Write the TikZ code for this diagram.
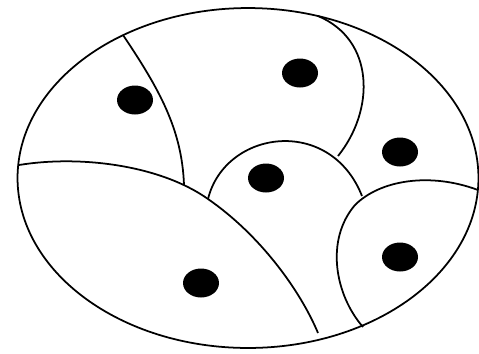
\documentclass[tikz,border=0pt]{standalone}
\usepackage{tikz}
\usetikzlibrary{shapes.geometric}

\begin{document}
\begin{tikzpicture}[x=0.02cm,y=-0.02cm,line width=1pt]
			\tikzset{dot/.style={ellipse, fill=black, inner sep=0pt, minimum width=0.72cm, minimum height=0.58cm}}
			\useasboundingbox (0,0) rectangle (479,353);
			% outer ellipse
			\node [draw, ellipse, minimum width=9.22cm, minimum height=6.8cm, line width=1pt] (outer) at (248,178) {};
			% region borders
			\draw (123,35) .. controls (160,90) and (182,130) .. (184,185);
			\draw (19,165) .. controls (80,155) and (160,165) .. (208,199) .. controls (260,235) and (300,290) .. (318,333);
			\draw (208,199) .. controls (225,130) and (330,115) .. (362,196);
			\draw (318,16) .. controls (375,40) and (375,110) .. (338,156);
			\draw (478,190) .. controls (430,172) and (380,180) .. (355,205) .. controls (325,240) and (335,295) .. (363,327);
			% dots
			\node [dot] (d1) at (135,100) {};
			\node [dot] (d2) at (300,73) {};
			\node [dot] (d3) at (400,152) {};
			\node [dot] (d4) at (266,178) {};
			\node [dot] (d5) at (201,283) {};
			\node [dot] (d6) at (400,257) {};
		\end{tikzpicture}
\end{document}
